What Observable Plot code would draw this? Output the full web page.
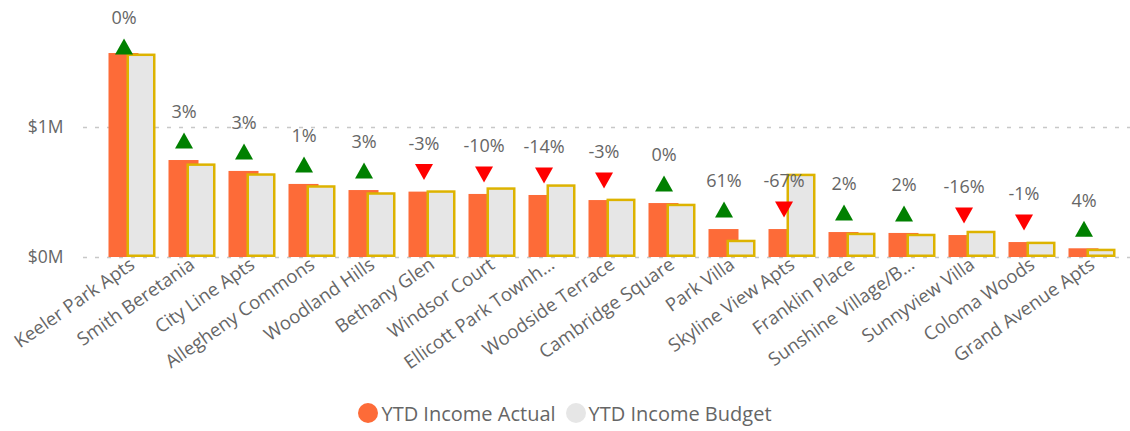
<!DOCTYPE html>
<html>
<head>
<meta charset="utf-8">
<script src="https://cdn.jsdelivr.net/npm/d3@7"></script>
<script src="https://cdn.jsdelivr.net/npm/@observablehq/plot@0.6"></script>
<style>
  html, body { margin: 0; padding: 0; background: #fff; }
  #wrap { width: 1130px; height: 431px; overflow: hidden; font-family: "Segoe UI", "Open Sans", sans-serif; }
  .legend { display: flex; justify-content: center; align-items: center; height: 36px; font-size: 20px; color: #666; }
  .legend .item { display: flex; align-items: center; margin: 0 5px; }
  .legend .sw { width: 20px; height: 20px; border-radius: 50%; margin-right: 3px; }
</style>
</head>
<body>
<div id="wrap"></div>
<script>
const properties = ["Keeler Park Apts","Smith Beretania","City Line Apts","Allegheny Commons","Woodland Hills","Bethany Glen","Windsor Court","Ellicott Park Townh…","Woodside Terrace","Cambridge Square","Park Villa","Skyline View Apts","Franklin Place","Sunshine Village/B…","Sunnyview Villa","Coloma Woods","Grand Avenue Apts"];
const ytdActual = [1.569,0.746,0.662,0.562,0.515,0.503,0.485,0.477,0.438,0.415,0.215,0.215,0.192,0.185,0.169,0.115,0.067]; // $M
const ytdBudget = [1.565,0.720,0.644,0.552,0.498,0.513,0.536,0.559,0.449,0.410,0.133,0.641,0.187,0.179,0.202,0.118,0.064]; // $M
const variancePct = [0,3,3,1,3,-3,-10,-14,-3,0,61,-67,2,2,-16,-1,4];
const yTicks = [0, 1];
const seriesNames = ["YTD Income Actual", "YTD Income Budget"];
const labelCap = 1.47; // markers are kept below the top of the plot

const colorActual = "#FD6B38";
const colorBudget = "#E6E6E6";
const colorBudgetStroke = "#DDB300";

const rows = properties.map((p, i) => ({
  name: p, actual: ytdActual[i], budget: ytdBudget[i], pct: variancePct[i],
  marker: Math.min(ytdActual[i], labelCap)
}));

const triUp = {draw(ctx, size) { const r = Math.sqrt(size / Math.PI); const h = r * 0.89;
  ctx.moveTo(0, -h); ctx.lineTo(r, h); ctx.lineTo(-r, h); ctx.closePath(); }};
const triDown = {draw(ctx, size) { const r = Math.sqrt(size / Math.PI); const h = r * 0.89;
  ctx.moveTo(0, h); ctx.lineTo(r, -h); ctx.lineTo(-r, -h); ctx.closePath(); }};

const chart = Plot.plot({
  width: 1130,
  height: 395,
  marginLeft: 101.5,
  marginRight: 8.5,
  marginTop: 10,
  marginBottom: 138,
  style: {fontFamily: '"Segoe UI", "Open Sans", sans-serif', color: "#666", background: "#fff"},
  x: {type: "band", domain: properties, padding: 0, axis: null},
  y: {domain: [0, 1.9], axis: null},
  marks: [
    Plot.ruleY(yTicks, {stroke: "#C8C8C8", strokeWidth: 1.5, strokeDasharray: "4,8", insetLeft: -18.5, insetRight: -8.5}),
    Plot.barY(rows, {x: "name", y: "actual", fill: colorActual, insetLeft: 6.5, insetRight: 23.5}),
    Plot.barY(rows, {x: "name", y: "budget", fill: colorBudget, stroke: colorBudgetStroke, strokeWidth: 2.5,
      insetLeft: 25.75, insetRight: 7.75, insetTop: 1.25, insetBottom: 1.25}),
    Plot.dot(rows.filter(d => d.pct >= 0), {x: "name", y: "marker", dx: -8.5, dy: -20, r: 9, symbol: triUp, fill: "#008000", stroke: "none"}),
    Plot.dot(rows.filter(d => d.pct < 0), {x: "name", y: "marker", dx: -8.5, dy: -20, r: 9, symbol: triDown, fill: "#FF0000", stroke: "none"}),
    Plot.text(rows, {x: "name", y: "marker", dx: -8.5, dy: -48, text: d => d.pct + "%", fontSize: 18, fill: "#666"}),
    Plot.axisY(yTicks, {tickSize: 0, tickPadding: 38.5, tickFormat: d => "$" + d + "M", fontSize: 17.5}),
    Plot.axisX({tickSize: 0, tickRotate: -35, tickPadding: 5, fontSize: 18.5, label: null})
  ]
});

const wrap = document.getElementById("wrap");
wrap.appendChild(chart);
const legend = document.createElement("div");
legend.className = "legend";
legend.innerHTML = seriesNames.map((n, i) =>
  `<div class="item"><span class="sw" style="background:${i === 0 ? colorActual : colorBudget}"></span><span>${n}</span></div>`).join("");
wrap.appendChild(legend);
</script>
</body>
</html>
